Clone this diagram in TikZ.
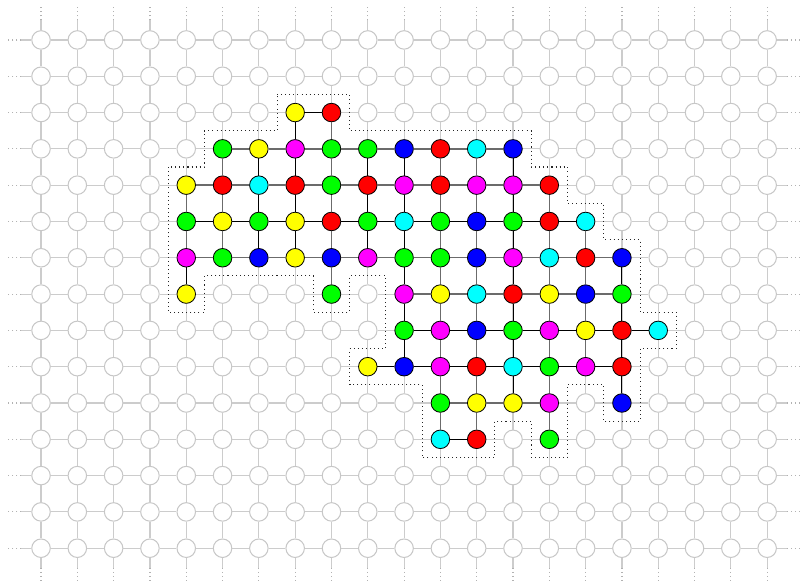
\documentclass[tikz,border=0pt]{standalone}
\usepackage{tikz}
\usetikzlibrary{positioning}
\definecolor{cellred}{RGB}{255,0,0}
\definecolor{cellgreen}{RGB}{0,255,0}
\definecolor{cellblue}{RGB}{0,0,255}
\definecolor{cellyellow}{RGB}{255,255,0}
\definecolor{cellcyan}{RGB}{0,255,255}
\definecolor{cellmagenta}{RGB}{255,0,255}
\tikzset{
  gridnode/.style={circle, draw=black!22, fill=white, line width=0.8pt,
    minimum size=5.1mm, inner sep=0pt},
  colnode/.style={gridnode, draw=black, line width=0.6pt},
  gridline/.style={draw=black!20, line width=0.9pt},
  gridstub/.style={draw=black!30, line width=0.9pt, dash pattern=on 0.8pt off 2.4pt},
  edgeblack/.style={draw=black, line width=0.8pt},
  edgegray/.style={draw=black!58, line width=1.1pt},
  regionline/.style={draw=black!85, line width=0.8pt, dash pattern=on 0.8pt off 2.4pt},
}

\begin{document}
\begin{tikzpicture}
  \useasboundingbox (-1.13,1.10) rectangle (20.96,-14.99);
  % grid
  \foreach \i in {0,...,20}
    \foreach \j in {0,...,14}
      \node[gridnode] (g-\i-\j) at (\i,-\j) {};
  \foreach \i [evaluate=\i as \k using int(\i+1)] in {0,...,19}
    \foreach \j in {0,...,14}
      \draw[gridline] (g-\i-\j) -- (g-\k-\j);
  \foreach \j [evaluate=\j as \k using int(\j+1)] in {0,...,13}
    \foreach \i in {0,...,20}
      \draw[gridline] (g-\i-\j) -- (g-\i-\k);
  % open ends
  \foreach \j in {0,...,14} {
    \draw[gridline] (g-0-\j.west) -- ++(-0.27,0) coordinate (sw);
    \draw[gridstub] (sw) -- ++(-0.4,0);
    \draw[gridline] (g-20-\j.east) -- ++(0.27,0) coordinate (se);
    \draw[gridstub] (se) -- ++(0.4,0);
  }
  \foreach \i in {0,...,20} {
    \draw[gridline] (g-\i-0.north) -- ++(0,0.27) coordinate (sn);
    \draw[gridstub] (sn) -- ++(0,0.4);
    \draw[gridline] (g-\i-14.south) -- ++(0,-0.27) coordinate (ss);
    \draw[gridstub] (ss) -- ++(0,-0.4);
  }
  % region
  \draw[regionline] (6.5,-1.5) -- (8.5,-1.5) -- (8.5,-2.5) -- (13.5,-2.5) -- (13.5,-3.5)
    -- (14.5,-3.5) -- (14.5,-4.5) -- (15.5,-4.5) -- (15.5,-5.5) -- (16.5,-5.5)
    -- (16.5,-7.5) -- (17.5,-7.5) -- (17.5,-8.5) -- (16.5,-8.5) -- (16.5,-10.5)
    -- (15.5,-10.5) -- (15.5,-9.5) -- (14.5,-9.5) -- (14.5,-11.5) -- (13.5,-11.5)
    -- (13.5,-10.5) -- (12.5,-10.5) -- (12.5,-11.5) -- (10.5,-11.5) -- (10.5,-9.5)
    -- (8.5,-9.5) -- (8.5,-8.5) -- (9.5,-8.5) -- (9.5,-6.5) -- (8.5,-6.5) -- (8.5,-7.5)
    -- (7.5,-7.5) -- (7.5,-6.5) -- (4.5,-6.5) -- (4.5,-7.5) -- (3.5,-7.5) -- (3.5,-3.5)
    -- (4.5,-3.5) -- (4.5,-2.5) -- (6.5,-2.5) -- cycle;
  % coloured cells
  \foreach \i/\j/\c in {
    7/2/yellow, 8/2/red,
    5/3/green, 6/3/yellow, 7/3/magenta, 8/3/green, 9/3/green, 10/3/blue, 11/3/red, 12/3/cyan, 13/3/blue,
    4/4/yellow, 5/4/red, 6/4/cyan, 7/4/red, 8/4/green, 9/4/red, 10/4/magenta, 11/4/red, 12/4/magenta, 13/4/magenta, 14/4/red,
    4/5/green, 5/5/yellow, 6/5/green, 7/5/yellow, 8/5/red, 9/5/green, 10/5/cyan, 11/5/green, 12/5/blue, 13/5/green, 14/5/red, 15/5/cyan,
    4/6/magenta, 5/6/green, 6/6/blue, 7/6/yellow, 8/6/blue, 9/6/magenta, 10/6/green, 11/6/green, 12/6/blue, 13/6/magenta, 14/6/cyan, 15/6/red, 16/6/blue,
    4/7/yellow, 8/7/green, 10/7/magenta, 11/7/yellow, 12/7/cyan, 13/7/red, 14/7/yellow, 15/7/blue, 16/7/green,
    10/8/green, 11/8/magenta, 12/8/blue, 13/8/green, 14/8/magenta, 15/8/yellow, 16/8/red, 17/8/cyan,
    9/9/yellow, 10/9/blue, 11/9/magenta, 12/9/red, 13/9/cyan, 14/9/green, 15/9/magenta, 16/9/red,
    11/10/green, 12/10/yellow, 13/10/yellow, 14/10/magenta, 16/10/blue,
    11/11/cyan, 12/11/red, 14/11/green}
    \node[colnode, fill=cell\c] (n-\i-\j) at (\i,-\j) {};
  % links, rows
  \foreach \j/\a/\b/\s in {2/7/8/edgeblack, 3/5/13/edgegray, 4/4/14/edgegray,
      5/4/15/edgeblack, 6/4/16/edgegray, 7/10/16/edgegray, 8/10/17/edgeblack,
      9/9/16/edgeblack, 10/11/14/edgegray, 11/11/12/edgeblack} {
    \pgfmathtruncatemacro\e{\b-1}
    \foreach \i [evaluate=\i as \k using int(\i+1)] in {\a,...,\e}
      \draw[\s] (n-\i-\j) -- (n-\k-\j);
  }
  % links, columns
  \foreach \i/\a/\b/\s in {4/4/6/edgegray, 4/6/7/edgeblack, 5/3/6/edgegray,
      6/3/6/edgeblack, 7/2/6/edgeblack, 8/2/7/edgegray, 9/3/6/edgeblack,
      10/3/9/edgeblack, 11/3/11/edgegray, 12/3/11/edgegray, 13/3/10/edgeblack,
      14/4/11/edgegray, 15/5/9/edgegray, 16/6/10/edgeblack} {
    \pgfmathtruncatemacro\e{\b-1}
    \foreach \j [evaluate=\j as \k using int(\j+1)] in {\a,...,\e}
      \draw[\s] (n-\i-\j) -- (n-\i-\k);
  }
\end{tikzpicture}
\end{document}
